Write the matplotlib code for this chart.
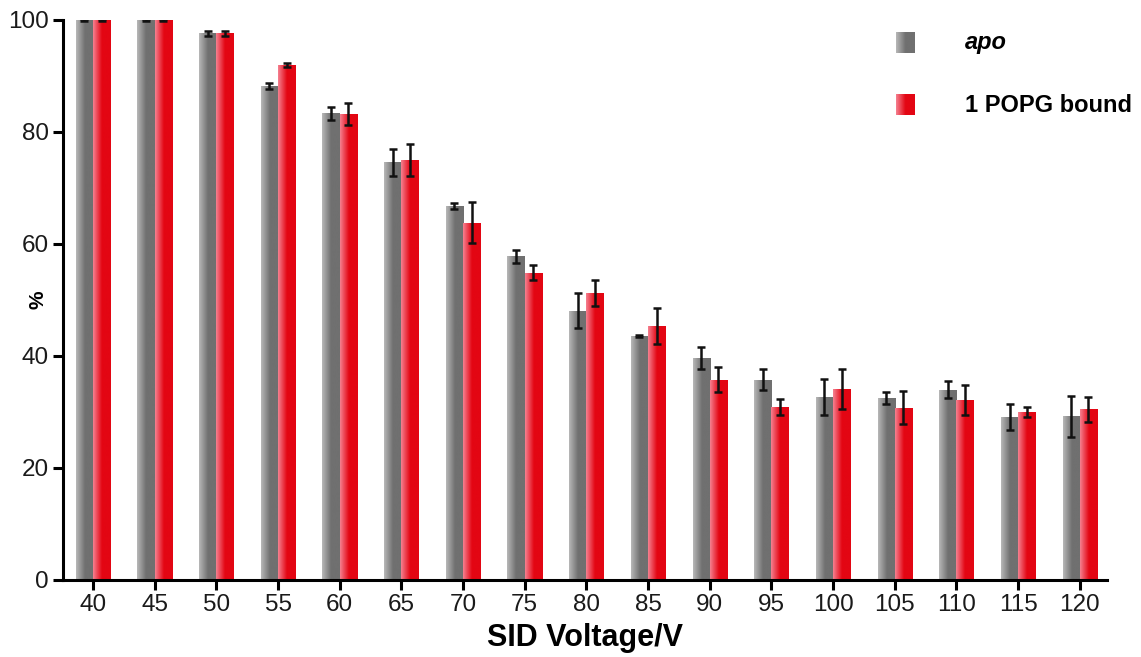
import numpy as np
import matplotlib
matplotlib.use("Agg")
import matplotlib.pyplot as plt
from matplotlib.colors import to_rgb

plt.rcParams['font.family'] = ['Liberation Sans', 'DejaVu Sans']

voltages = [40, 45, 50, 55, 60, 65, 70, 75, 80, 85, 90, 95, 100, 105, 110, 115, 120]
apo = [100.0, 100.0, 97.6, 88.2, 83.3, 74.6, 66.8, 57.8, 48.1, 43.6, 39.6, 35.8, 32.7, 32.5, 34.0, 29.1, 29.2]
apo_err = [0.1, 0.1, 0.4, 0.6, 1.1, 2.4, 0.5, 1.2, 3.1, 0.15, 2.0, 1.85, 3.2, 1.1, 1.55, 2.4, 3.65]
popg = [100.0, 100.0, 97.6, 92.0, 83.2, 75.0, 63.8, 54.9, 51.3, 45.4, 35.8, 30.9, 34.1, 30.8, 32.2, 30.0, 30.5]
popg_err = [0.1, 0.1, 0.4, 0.4, 2.0, 2.8, 3.7, 1.4, 2.3, 3.2, 2.2, 1.5, 3.5, 3.0, 2.7, 0.95, 2.25]

series_labels = ['apo', '1 POPG bound']

grey_light, grey_dark = '#b8b8b8', '#707070'
red_light, red_dark = '#f58090', '#e30613'


def gradient(light, dark, n=64):
    """horizontal gradient: light at the left, full colour from the middle on"""
    t = np.clip(np.linspace(0, 1, n) / 0.5, 0, 1)
    c0, c1 = np.array(to_rgb(light)), np.array(to_rgb(dark))
    row = c0[None, :] * (1 - t[:, None]) + c1[None, :] * t[:, None]
    return row[None, :, :]


def fill_bars(ax, bars, light, dark):
    img = gradient(light, dark)
    for b in bars:
        x0, w, h = b.get_x(), b.get_width(), b.get_height()
        im = ax.imshow(img, extent=(x0, x0 + w, 0, h), aspect='auto',
                       interpolation='bilinear', zorder=2)
        im.set_clip_path(b)


fig = plt.figure(figsize=(11.41, 6.57), dpi=100)
ax = fig.add_axes([0.0552, 0.1172, 0.9150, 0.8524])

x = np.arange(len(voltages))
w = 0.28
b1 = ax.bar(x - w / 2, apo, w, color=grey_dark, zorder=1)
b2 = ax.bar(x + w / 2, popg, w, color=red_dark, zorder=1)
fill_bars(ax, b1, grey_light, grey_dark)
fill_bars(ax, b2, red_light, red_dark)

ax.errorbar(x - w / 2, apo, yerr=apo_err, fmt='none', ecolor='#111111',
            elinewidth=1.8, capsize=3, capthick=1.8, zorder=3)
ax.errorbar(x + w / 2, popg, yerr=popg_err, fmt='none', ecolor='#111111',
            elinewidth=1.8, capsize=3, capthick=1.8, zorder=3)

ax.set_xticks(x)
ax.set_xticklabels([str(v) for v in voltages])
ax.set_yticks([0, 20, 40, 60, 80, 100])

for s in ['top', 'right']:
    ax.spines[s].set_visible(False)
for s in ['left', 'bottom']:
    ax.spines[s].set_linewidth(2.2)
    ax.spines[s].set_color('black')
ax.tick_params(axis='both', length=7, width=2.2, labelsize=17.5, color='black',
               labelcolor='#1a1a1a')
ax.tick_params(axis='x', pad=3)
ax.tick_params(axis='y', pad=3)

ax.set_xlabel('SID Voltage/V', fontsize=22, fontweight='bold', labelpad=5)
ax.set_ylabel('%', fontsize=15, fontweight='bold')
ax.yaxis.set_label_coords(-0.015, 0.5)

# legend drawn by hand so the swatches keep their gradient
legend_rows = [(0.959, grey_light, grey_dark, 'italic'), (0.848, red_light, red_dark, 'normal')]
for (yc, light, dark, style), lab in zip(legend_rows, series_labels):
    ax.imshow(gradient(light, dark), extent=(0.798, 0.816, yc - 0.018, yc + 0.018),
              transform=ax.transAxes, aspect='auto', interpolation='bilinear',
              clip_on=False, zorder=4)
    ax.text(0.864, yc, lab, transform=ax.transAxes, fontsize=17, fontweight='bold',
            fontstyle=style, va='center', ha='left')

ax.set_xlim(-0.486, 16.44)
ax.set_ylim(0, 100)

fig.savefig('out.png', dpi=100)
